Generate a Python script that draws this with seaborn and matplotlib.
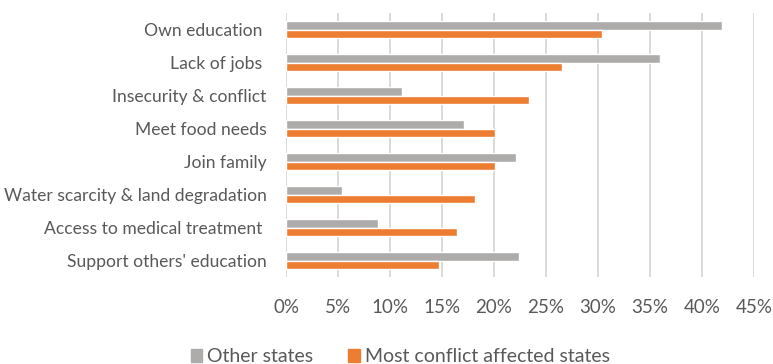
import pandas as pd
import matplotlib.pyplot as plt
import seaborn as sns
from matplotlib.ticker import FuncFormatter, MultipleLocator
import matplotlib.patches as mpatches

# data (percent)
reasons = ["Own education ", "Lack of jobs ", "Insecurity & conflict", "Meet food needs",
           "Join family", "Water scarcity & land degradation",
           "Access to medical treatment ", "Support others' education"]
other_states = [41.9, 36.0, 11.2, 17.1, 22.1, 5.4, 8.85, 22.4]
conflict_states = [30.4, 26.5, 23.4, 20.1, 20.1, 18.2, 16.4, 14.7]
groups = ["Other states", "Most conflict affected states"]
colors = ["#AEABAB", "#ED7D31"]

df = pd.DataFrame({
    "reason": reasons * 2,
    "pct": other_states + conflict_states,
    "group": [groups[0]] * len(reasons) + [groups[1]] * len(reasons),
})

sns.set_style("white")
plt.rcParams["font.family"] = ["Lato", "DejaVu Sans"]
txt = "#595959"

fig = plt.figure(figsize=(7.73, 3.64), dpi=100)
ax = fig.add_axes([0.370, 0.239, 0.6054, 0.725])

sns.barplot(data=df, y="reason", x="pct", hue="group", hue_order=groups,
            palette=colors, orient="h", width=0.5, saturation=1,
            order=reasons, ax=ax, legend=False)

ax.set_xlim(0, 45)
ax.xaxis.set_major_locator(MultipleLocator(5))
ax.xaxis.set_major_formatter(FuncFormatter(lambda v, p: f"{v:.0f}%"))
ax.grid(axis="x", color="#D9D9D9", linewidth=1.4)
ax.set_axisbelow(True)
for s in ax.spines.values():
    s.set_visible(False)
ax.tick_params(axis="x", length=0, pad=16, labelsize=13.5, labelcolor=txt)
ax.tick_params(axis="y", length=0, pad=14, labelsize=12.6, labelcolor=txt)
ax.set_xlabel("")
ax.set_ylabel("")

handles = [mpatches.Patch(color=c, label=g) for c, g in zip(colors, groups)]
fig.legend(handles=handles, loc="lower center", bbox_to_anchor=(0.518, -0.052),
           ncol=2, frameon=False, fontsize=14, labelcolor=txt,
           handlelength=0.6, handleheight=0.6, handletextpad=0.25, columnspacing=1.8)

fig.savefig("out.png", dpi=100)
